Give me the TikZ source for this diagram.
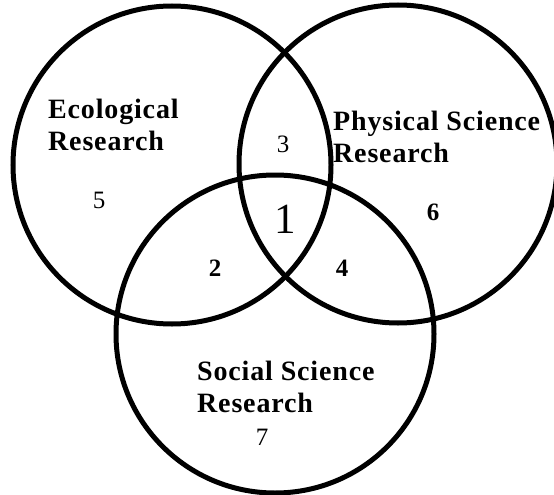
\documentclass[tikz,border=0pt]{standalone}
\usepackage{fontspec}
\setmainfont{Liberation Serif}
\usepackage{tikz}
\tikzset{
  venn/.style={
    draw,
    circle,
    line width=5pt,
    inner sep=0pt,
    minimum size=318pt
  },
  area/.style={
    font=\fontsize{28}{32}\selectfont\bfseries\addfontfeature{LetterSpace=3},
    align=left,
    inner sep=0pt,
    anchor=base west
  },
  count/.style={
    font=\fontsize{25}{25}\selectfont,
    inner sep=0pt
  },
  boldcount/.style={
    count,
    font=\fontsize{25}{25}\selectfont\bfseries
  }
}

\begin{document}
\begin{tikzpicture}[x=1pt,y=-1pt]
  \useasboundingbox (0,0) rectangle (554,495);

  % the three research fields
  \node[venn] (eco) at (172,165) {};
  \node[venn] (phys) at (398,164) {};
  \node[venn] (soc) at (275,334) {};

  \node[area] (ecolabel) at (48,150) {Ecological\\Research};
  \node[area] (physlabel) at (333,162) {Physical Science\\Research};
  \node[area] (soclabel) at (197,412) {Social Science\\Research};

  % region numbers
  \node[count, font=\fontsize{43}{43}\selectfont] (all) at (285,219) {1};
  \node[boldcount] (ecosoc) at (215,268) {2};
  \node[count] (ecophys) at (283,144) {3};
  \node[boldcount] (physsoc) at (342,268) {4};
  \node[count] (ecoonly) at (99,200) {5};
  \node[boldcount] (physonly) at (433,212) {6};
  \node[count] (soconly) at (262,437) {7};
\end{tikzpicture}
\end{document}
